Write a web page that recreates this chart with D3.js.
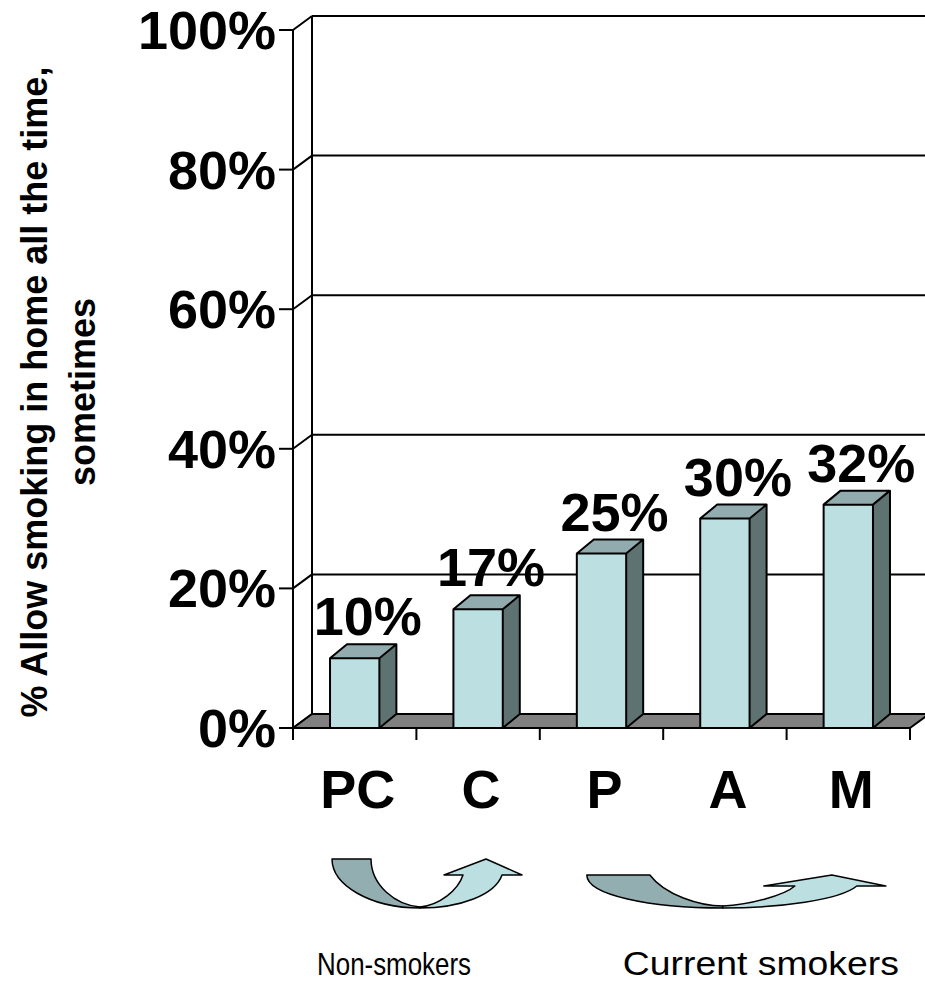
<!DOCTYPE html>
<html>
<head>
<meta charset="utf-8">
<script src="https://cdn.jsdelivr.net/npm/d3@7/dist/d3.min.js"></script>
<style>
  html, body { margin: 0; padding: 0; background: #fff; }
  svg { display: block; }
  text { font-family: Arial, "Liberation Sans", Helvetica, sans-serif; fill: #000; }
</style>
</head>
<body>
<svg id="chart" width="925" height="988"></svg>
<script>
// Share of households that allow smoking in the home (all the time / sometimes)
const categories = ["PC", "C", "P", "A", "M"];
const values = [0.10, 0.17, 0.25, 0.30, 0.32];
const valueLabels = ["10%", "17%", "25%", "30%", "32%"];
const yTicks = [0, 0.2, 0.4, 0.6, 0.8, 1.0];
const yTickLabels = ["0%", "20%", "40%", "60%", "80%", "100%"];
const yTitleLines = ["% Allow smoking in home all the time,", "sometimes"];
const groupLabels = ["Non-smokers", "Current smokers"];

const svg = d3.select("#chart");
const W = 925;

// plot geometry (front plane of the 3D box)
const plotLeft = 293, plotRight = 910, plotBottom = 728, plotTop = 30;
const wallDx = 19, wallDy = -14;   // depth of the chart box
const barDx = 17, barDy = -14;     // depth of each column

const x = d3.scaleBand().domain(categories).range([plotLeft, plotRight])
  .paddingInner(0.6).paddingOuter(0.3);
const xSlot = d3.scaleBand().domain(categories).range([plotLeft, plotRight]).padding(0);
const y = d3.scaleLinear().domain([0, 1]).range([plotBottom, plotTop]);

const colFront = "#bcdfe2", colSide = "#5f7272", colTop = "#91abae";
const floorFill = "#808080";
const lw = 2;

// back wall gridlines
const grid = svg.append("g");
grid.selectAll("line.back").data(yTicks).join("line")
  .attr("x1", plotLeft + wallDx).attr("x2", W)
  .attr("y1", d => y(d) + wallDy).attr("y2", d => y(d) + wallDy)
  .attr("stroke", "#000").attr("stroke-width", lw);
// side wall gridlines
grid.selectAll("line.side").data(yTicks).join("line")
  .attr("x1", plotLeft).attr("y1", d => y(d))
  .attr("x2", plotLeft + wallDx).attr("y2", d => y(d) + wallDy)
  .attr("stroke", "#000").attr("stroke-width", lw);
// back wall left edge
grid.append("line")
  .attr("x1", plotLeft + wallDx).attr("x2", plotLeft + wallDx)
  .attr("y1", y(1) + wallDy).attr("y2", y(0) + wallDy)
  .attr("stroke", "#000").attr("stroke-width", lw);

// floor
svg.append("path")
  .attr("d", d3.line()([
    [plotLeft, y(0)], [plotRight, y(0)], [plotRight + wallDx, y(0) + wallDy], [plotLeft + wallDx, y(0) + wallDy]
  ]) + "Z")
  .attr("fill", floorFill).attr("stroke", "#000").attr("stroke-width", lw)
  .attr("stroke-linejoin", "round");

// 3D columns
const bars = svg.append("g").selectAll("g").data(categories).join("g");
bars.each(function(c, i) {
  const g = d3.select(this);
  const x0 = x(c), x1 = x(c) + x.bandwidth();
  const yt = y(values[i]), yb = y(0);
  g.append("path")
    .attr("d", d3.line()([[x1, yb], [x1 + barDx, yb + barDy], [x1 + barDx, yt + barDy], [x1, yt]]) + "Z")
    .attr("fill", colSide);
  g.append("path")
    .attr("d", d3.line()([[x0, yt], [x0 + barDx, yt + barDy], [x1 + barDx, yt + barDy], [x1, yt]]) + "Z")
    .attr("fill", colTop);
  g.append("rect")
    .attr("x", x0).attr("y", yt).attr("width", x.bandwidth()).attr("height", yb - yt)
    .attr("fill", colFront);
  // outline
  g.append("path")
    .attr("d", d3.line()([[x0, yb], [x0, yt], [x0 + barDx, yt + barDy], [x1 + barDx, yt + barDy],
                          [x1 + barDx, yb + barDy], [x1, yb], [x0, yb]]) + "Z"
               + d3.line()([[x0, yt], [x1, yt], [x1 + barDx, yt + barDy]])
               + d3.line()([[x1, yt], [x1, yb]]))
    .attr("fill", "none").attr("stroke", "#000").attr("stroke-width", lw)
    .attr("stroke-linejoin", "round");
});

// value labels
svg.append("g").selectAll("text").data(categories).join("text")
  .attr("x", c => x(c) + x.bandwidth() / 2 + 13)
  .attr("y", (c, i) => y(values[i]) + barDy - 9)
  .attr("text-anchor", "middle")
  .attr("font-size", 54).attr("font-weight", "bold")
  .text((c, i) => valueLabels[i]);

// value axis: front edge, ticks and labels
svg.append("line")
  .attr("x1", plotLeft).attr("x2", plotLeft).attr("y1", y(1)).attr("y2", y(0) + 12)
  .attr("stroke", "#000").attr("stroke-width", lw);
svg.append("g").selectAll("line").data(yTicks).join("line")
  .attr("x1", plotLeft - 14).attr("x2", plotLeft)
  .attr("y1", d => y(d)).attr("y2", d => y(d))
  .attr("stroke", "#000").attr("stroke-width", lw);
svg.append("g").selectAll("text").data(yTicks).join("text")
  .attr("x", plotLeft - 17).attr("y", d => y(d) + 19)
  .attr("text-anchor", "end")
  .attr("font-size", 54).attr("font-weight", "bold")
  .text((d, i) => yTickLabels[i]);

// category axis: front edge, slot ticks and labels
svg.append("line")
  .attr("x1", plotLeft).attr("x2", plotRight).attr("y1", y(0)).attr("y2", y(0))
  .attr("stroke", "#000").attr("stroke-width", lw);
const slotEdges = categories.map(c => xSlot(c)).concat([plotRight]);
svg.append("g").selectAll("line").data(slotEdges).join("line")
  .attr("x1", d => d).attr("x2", d => d)
  .attr("y1", y(0)).attr("y2", y(0) + 12)
  .attr("stroke", "#000").attr("stroke-width", lw);
svg.append("g").selectAll("text").data(categories).join("text")
  .attr("x", c => xSlot(c) + xSlot.bandwidth() / 2 + 3)
  .attr("y", 808)
  .attr("text-anchor", "middle")
  .attr("font-size", 54).attr("font-weight", "bold")
  .text(c => c);

// y axis title (two rotated lines)
const yTitle = svg.append("g");
yTitleLines.forEach((t, i) => {
  yTitle.append("text")
    .attr("transform", `translate(${47 + i * 48},392) rotate(-90)`)
    .attr("text-anchor", "middle")
    .attr("font-size", 36).attr("font-weight", "bold")
    .text(t);
});

// curved "transition" arrows under the category groups
const darkArrow = "#93aeb1", lightArrow = "#bcdfe2";
function drawArrow(ox, oy, darkD, lightD) {
  const g = svg.append("g").attr("transform", `translate(${ox},${oy})`);
  g.append("path").attr("d", darkD).attr("fill", darkArrow)
    .attr("stroke", "#000").attr("stroke-width", 1.5).attr("stroke-linejoin", "round");
  g.append("path").attr("d", lightD).attr("fill", lightArrow)
    .attr("stroke", "#000").attr("stroke-width", 1.5).attr("stroke-linejoin", "round");
}
// non-smokers: PC -> C
drawArrow(x("PC") + 2, 859,
  "M0,0 L39,0 C39,26 63,46 88,48 L88,49 C38,49 0,26 0,0 Z",
  "M88,48 C108,46 126,31 131,16 L112,16 L154,0 L190,16 L170,16 C163,36 128,49 88,49 Z");
// current smokers: P -> A -> M
drawArrow(x("P") + 10, 875,
  "M0,0 L63,0 C78,20 113,31 136,31 L136,33 C63,33 0,20 0,0 Z",
  "M136,31 C163,30 198,20 208,11 L177,11 L245,0 L299,11 L270,11 C253,25 193,33 136,33 Z");

// group captions under the arrows
svg.append("text").attr("x", x("PC") - 13)
  .attr("y", 975).attr("font-size", 32)
  .attr("textLength", 154).attr("lengthAdjust", "spacingAndGlyphs")
  .text(groupLabels[0]);
svg.append("text").attr("x", x("P") + 46)
  .attr("y", 975).attr("font-size", 33)
  .attr("textLength", 276).attr("lengthAdjust", "spacingAndGlyphs")
  .text(groupLabels[1]);
</script>
</body>
</html>
